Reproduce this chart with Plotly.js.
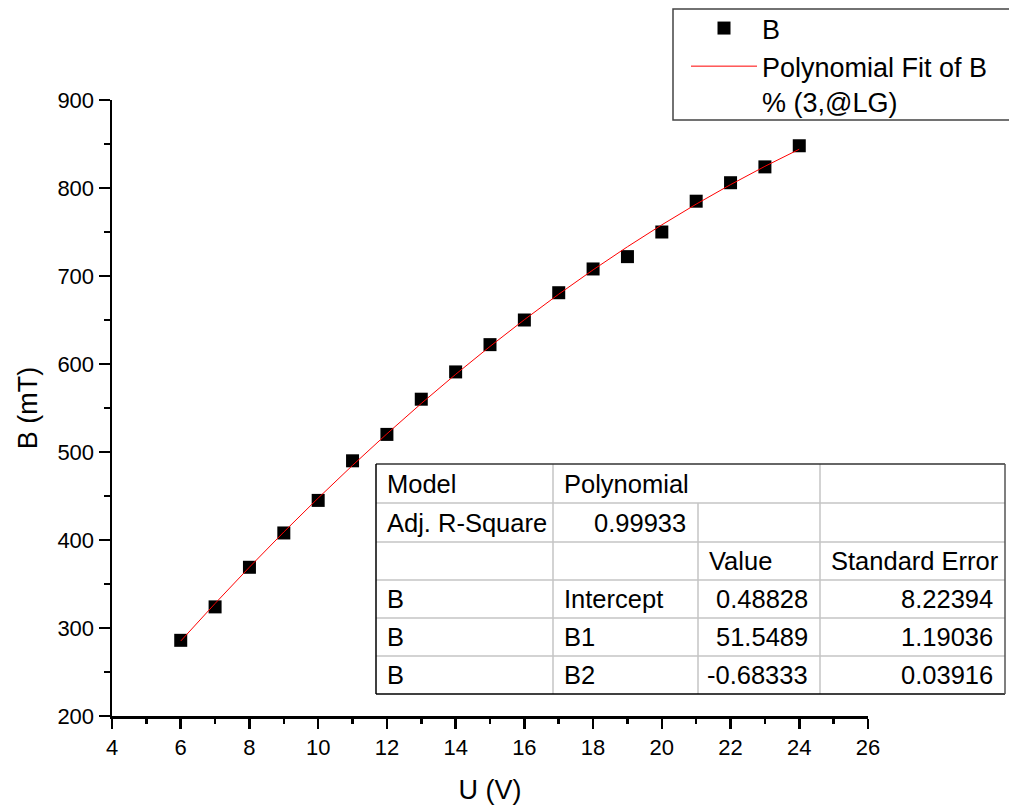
<!DOCTYPE html>
<html>
<head>
<meta charset="utf-8">
<script src="https://cdn.plot.ly/plotly-3.0.1.min.js"></script>
<style>html,body{margin:0;padding:0;background:#fff;}#chart{width:1009px;height:806px;}</style>
</head>
<body>
<div id="chart"></div>
<script>
// ---- data ----
const voltage = [6,7,8,9,10,11,12,13,14,15,16,17,18,19,20,21,22,23,24];
const fieldB = [286,324,369,408,445,490,520,560,591,622,650,681,708,722,750,785,806,824,848];
// polynomial fit curve values (from the fit shown in the table)
const fitB = [285.18,327.85,369.15,409.08,447.64,484.84,520.68,555.14,588.24,619.97,650.34,679.34,706.97,733.24,758.13,781.67,803.83,824.63,844.06];

const tableCol1 = ['Model','Adj. R-Square','','B','B','B'];
const tableCol2 = ['Polynomial','0.99933','','Intercept','B1','B2'];
const tableCol3 = ['','','Value','0.48828','51.5489','-0.68333'];
const tableCol4 = ['','','Standard Error','8.22394','1.19036','0.03916'];

const seriesName = 'B';
const fitName = 'Polynomial Fit of B<br>% (3,@LG)';

// ---- layout geometry ----
const W = 1009, H = 806;
const ml = 112, mt = 100, pw = 756, ph = 616;
const mr = W - ml - pw, mb = H - mt - ph;
const px2x = p => (p - ml) / pw;
const py2y = p => (mt + ph - p) / ph;

const FONT = 'Liberation Sans, Arial, sans-serif';

const traces = [
  {
    x: voltage, y: fieldB, name: seriesName, type: 'scatter', mode: 'markers',
    marker: {symbol: 'square', size: 13, color: '#000'}
  },
  {
    x: voltage, y: fitB, name: fitName, type: 'scatter', mode: 'lines',
    line: {color: '#ff0000', width: 1}
  }
];

const shapes = [];
// legend frame
shapes.push({type:'rect', xref:'paper', yref:'paper', layer:'below',
  x0:px2x(673), x1:px2x(1030), y0:py2y(120), y1:py2y(9),
  line:{color:'#444', width:1.5}, fillcolor:'#fff'});

// table grid
const colX = [376, 553, 698, 820, 1005];
const rowY = [464, 503, 542, 580, 618, 656, 694];
const gray = '#c4c4c4';
function seg(x0,y0,x1,y1,color,w){
  shapes.push({type:'line', xref:'paper', yref:'paper', x0:px2x(x0), y0:py2y(y0), x1:px2x(x1), y1:py2y(y1), line:{color:color, width:w}});
}
shapes.push({type:'rect', xref:'paper', yref:'paper', x0:px2x(colX[0]), x1:px2x(colX[4]), y0:py2y(rowY[6]), y1:py2y(rowY[0]), line:{width:0}, fillcolor:'#fff'});
for (let i = 1; i < rowY.length - 1; i++) seg(colX[0], rowY[i], colX[4], rowY[i], gray, 1.5);
seg(colX[1], rowY[0], colX[1], rowY[6], gray, 1.5);
seg(colX[2], rowY[1], colX[2], rowY[6], gray, 1.5);
seg(colX[3], rowY[0], colX[3], rowY[6], gray, 1.5);
seg(colX[0], rowY[0], colX[4], rowY[0], '#333', 1.5);
seg(colX[0], rowY[6], colX[4], rowY[6], '#000', 1.5);
seg(colX[0], rowY[0], colX[0], rowY[6], '#000', 1.5);
seg(colX[4], rowY[0], colX[4], rowY[6], '#555', 1.5);

const annotations = [];
const isNum = s => /^-?\d/.test(s);
const cols = [tableCol1, tableCol2, tableCol3, tableCol4];
cols.forEach((col, ci) => {
  col.forEach((txt, ri) => {
    if (!txt) return;
    const yc = (rowY[ri] + rowY[ri+1]) / 2;
    const right = isNum(txt) && ci > 0;
    annotations.push({
      xref:'paper', yref:'paper', showarrow:false,
      x: right ? px2x(colX[ci+1] - 10) : px2x(colX[ci] + 9),
      xanchor: right ? 'right' : 'left',
      y: py2y(yc), yanchor:'middle',
      text: txt, font:{family:FONT, size:25.5, color:'#000'}
    });
  });
});

const axisCommon = {
  showgrid:false, zeroline:false, showline:true, linecolor:'#000', linewidth:2.5,
  ticks:'outside', tickwidth:2.5, tickcolor:'#000', mirror:false,
  tickfont:{family:FONT, size:22, color:'#000'}
};

const layout = {
  width: W, height: H,
  margin: {l: ml, r: mr, t: mt, b: mb, pad: 0, autoexpand: false},
  paper_bgcolor:'#fff', plot_bgcolor:'#fff',
  font:{family:FONT, color:'#000'},
  xaxis: Object.assign({}, axisCommon, {
    range:[4,26], dtick:2, tick0:0, ticklen:10,
    minor:{dtick:1, ticks:'outside', ticklen:5, tickwidth:2.5, tickcolor:'#000', showgrid:false},
    title:{text:'U (V)', font:{family:FONT, size:27, color:'#000'}, standoff:21}
  }),
  yaxis: Object.assign({}, axisCommon, {
    range:[200,900], dtick:100, tick0:0, ticklen:11,
    minor:{dtick:50, ticks:'outside', ticklen:6, tickwidth:2.5, tickcolor:'#000', showgrid:false},
    title:{text:'B (mT)', font:{family:FONT, size:27, color:'#000'}, standoff:12}
  }),
  showlegend:true,
  legend:{
    x: px2x(686), xanchor:'left', y: py2y(4), yanchor:'top',
    bgcolor:'rgba(0,0,0,0)', borderwidth:0, valign:'top',
    font:{family:FONT, size:27, color:'#000'},
    itemwidth: 66, tracegroupgap: 0
  },
  shapes: shapes,
  annotations: annotations
};

Plotly.newPlot('chart', traces, layout, {staticPlot:true, displayModeBar:false});
</script>
</body>
</html>
